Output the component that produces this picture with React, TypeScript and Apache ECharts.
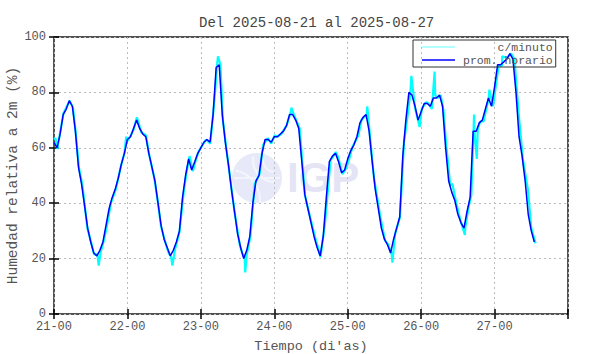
import React, { useEffect, useRef } from "react";
import * as echarts from "echarts";

const titleText = "Del 2025-08-21 al 2025-08-27";
const yAxisName = "Humedad relativa a 2m (%)";
const xAxisName = "Tiempo (di'as)";
const seriesNames = ["c/minuto", "prom. horario"];
const startDay = 21;
const yTicks = [0, 20, 40, 60, 80, 100];

// hourly averages, hour 0 = 21-00
const hourlyValues = [
  62, 60, 65, 72, 74, 77, 75, 66, 53, 47, 39, 31, 26, 22, 21, 23, 26, 32, 38, 42, 45, 49, 54, 58,
  63, 64, 67, 70, 67, 65, 64, 58, 53, 48, 40, 32, 27, 24, 21, 23, 26, 30, 42, 50, 56, 52, 55, 58,
  60, 62, 63, 62, 72, 89, 90, 72, 62, 54, 45, 37, 29, 24, 20, 23, 28, 40, 48, 50, 58, 63, 63, 62,
  64, 64, 65, 66, 68, 72, 72, 70, 67, 55, 43, 38, 33, 28, 24, 21, 28, 42, 55, 57, 58, 55, 51, 52,
  56, 59, 61, 64, 69, 71, 72, 66, 55, 45, 38, 31, 27, 25, 22, 27, 31, 35, 57, 70, 80, 79, 75, 70,
  73, 76, 76, 75, 78, 78, 79, 75, 60, 48, 44, 41, 36, 33, 31, 37, 42, 66, 66, 69, 70, 74, 78, 75,
  82, 90, 90, 91, 92, 94, 92, 80, 64, 57, 48, 36, 30, 26,
];

// per-minute trace: [hours since 21-00, value]
const minuteSeries: [number, number][] = [
  [0, 63], [0.5, 63.5], [1.1, 59.5], [2, 65.5], [3.1, 72.5], [4, 74.5], [5.1, 77], [6.2, 74.5], [7, 66.5],
  [8.2, 52.5], [9.3, 46.5], [10.9, 31], [12, 26.5], [13.1, 21.5], [14.2, 21.5], [14.6, 17.5],
  [15.2, 22], [16.4, 27], [17.5, 33], [18.6, 40], [20.2, 45], [21.9, 53.5], [23, 58], [23.6, 64],
  [24, 62.5], [25.1, 64.5], [26, 66.5], [27.1, 71], [28.6, 65.5], [30.1, 64.5], [31, 58],
  [32.8, 49], [34, 40], [35, 31.5], [36.6, 25], [37.5, 22], [38.3, 20.5], [38.7, 17.5], [39.5, 23],
  [41, 29.5], [42.4, 44], [43.3, 51], [44.3, 57], [45.4, 51.5], [46.2, 55], [47.2, 58.5],
  [48.5, 61], [49.7, 63], [51.1, 61.5], [52.5, 78], [53.3, 90], [53.6, 93], [54.4, 90],
  [55.2, 70], [56.3, 60], [57.7, 48], [59, 37], [60.7, 25], [61.5, 22], [62.3, 20.5], [62.5, 15],
  [63, 21.5], [64.2, 28], [65.6, 47], [67.2, 50.5], [68.3, 61], [69.9, 63.5], [71, 61.5],
  [72.1, 64.5], [73.2, 64], [74.3, 65], [76, 68], [77.3, 72.5], [77.6, 74.5], [78.4, 72],
  [80.3, 67], [82, 43], [83.6, 35.5], [85.6, 26.5], [86.3, 24], [87.1, 20.5], [88.5, 32],
  [90.4, 55.5], [91.3, 57], [92.1, 58.5], [92.9, 56.5], [94.3, 50.5], [95.4, 52.5], [96.5, 56],
  [97.6, 60.5], [99.5, 64.5], [100.5, 70], [101.3, 71], [102.2, 72], [102.4, 75], [103.3, 64],
  [104.6, 49], [105.5, 43], [106.6, 35.5], [108.2, 26.5], [109.3, 25], [110.4, 21.5], [110.6, 18.5],
  [111.5, 29], [113.1, 35], [114.4, 62], [115.5, 71], [116.5, 80], [116.8, 86], [118, 74.5],
  [119.5, 67.5], [120.2, 74], [121.6, 76.5], [122.4, 76], [123.5, 74], [124.4, 87.5], [124.6, 79],
  [125.4, 78], [126.4, 79], [127.3, 73.5], [128.2, 61], [129.5, 46.5], [130.2, 47], [131.5, 40],
  [132.8, 34], [134.3, 28.5], [134.4, 31], [135.5, 38.5], [136.4, 43], [137.3, 72], [137.4, 66],
  [138.2, 56], [138.5, 66.5], [139.3, 69.5], [140.4, 69.5], [141.3, 74], [142.1, 78], [142.3, 81],
  [143.5, 75], [144.5, 83], [145.4, 90], [146.4, 89.5], [146.5, 93], [148.1, 92.5],
  [149.4, 94], [150.5, 92], [151.9, 72], [153.3, 55.5], [154.9, 45], [156, 31], [157.4, 25.5],
];

const MONO = "'Liberation Mono', 'DejaVu Sans Mono', monospace";
const TEXT = "#555";

export default function App() {
  const ref = useRef<HTMLDivElement>(null);
  useEffect(() => {
    if (!ref.current) return;
    const chart = echarts.init(ref.current, null, { renderer: "svg" });
    const hourlyData = hourlyValues.map((v, i) => [i, v]);
    const axisCommon = {
      min: 0,
      axisLine: { show: false },
      splitLine: { show: false },
      axisTick: { show: true, inside: true, length: 5, lineStyle: { color: "#000", width: 1.5 } },
    };
    chart.setOption({
      animation: false,
      backgroundColor: "#fff",
      title: {
        text: titleText,
        left: 194,
        top: 11,
        textStyle: { fontFamily: MONO, fontSize: 14, fontWeight: "normal", color: "#444" },
      },
      legend: {
        left: 413,
        top: 40,
        orient: "vertical",
        padding: [1, 3, 1, 9],
        itemGap: 1,
        itemWidth: 33,
        itemHeight: 1.5,
        icon: "rect",
        borderColor: "#333",
        borderWidth: 1,
        backgroundColor: "transparent",
        formatter: (name: string) => (name === seriesNames[0] ? "     " + name : name),
        textStyle: { fontFamily: MONO, fontSize: 11.5, color: TEXT, lineHeight: 12, padding: [0, 0, 0, 3] },
        data: [
          { name: seriesNames[0], itemStyle: { color: "#99ffff" } },
          { name: seriesNames[1], itemStyle: { color: "#0000ff" } },
        ],
      },
      grid: {
        left: 54,
        top: 37,
        width: 514,
        height: 277,
        outerBoundsMode: "none",
        containLabel: false,
        show: true,
        borderColor: "#1a1a1a",
        borderWidth: 1.5,
        backgroundColor: "transparent",
      },
      graphic: [
        {
          type: "group",
          z: 0,
          silent: true,
          children: [
            { type: "circle", shape: { cx: 257, cy: 178, r: 25 }, style: { fill: "#e7e9f8" }, z: 0 },
            { type: "arc", shape: { cx: 275, cy: 160, r: 22, startAngle: 1.6, endAngle: 3.3 }, style: { stroke: "#f3f5fd", lineWidth: 2.5, fill: "none" }, z: 0 },
            { type: "arc", shape: { cx: 275, cy: 160, r: 12, startAngle: 1.6, endAngle: 3.3 }, style: { stroke: "#f3f5fd", lineWidth: 2, fill: "none" }, z: 0 },
            { type: "arc", shape: { cx: 230, cy: 200, r: 30, startAngle: 4.9, endAngle: 6.4 }, style: { stroke: "#f3f5fd", lineWidth: 2, fill: "none" }, z: 0 },
            { type: "line", shape: { x1: 234, y1: 178, x2: 280, y2: 178 }, style: { stroke: "#f3f5fd", lineWidth: 2 }, z: 0 },
            {
              type: "text",
              x: 287,
              y: 177,
              style: {
                text: "IGP",
                fontFamily: "'Liberation Sans', Arial, sans-serif",
                fontWeight: "bold",
                fontSize: 42,
                fill: "#e4e4f5",
                verticalAlign: "middle",
              },
              z: 0,
            },
          ],
        },
      ],
      xAxis: [
        {
          ...axisCommon,
          type: "value",
          max: 168,
          interval: 24,
          position: "bottom",
          name: xAxisName,
          nameLocation: "middle",
          nameGap: 25,
          nameMoveOverlap: false,
          nameTextStyle: { fontFamily: MONO, fontSize: 13.5, color: TEXT },
          axisLabel: {
            fontFamily: MONO,
            fontSize: 12,
            color: TEXT,
            margin: 7,
            formatter: (v: number) => (v >= 168 ? "" : `${startDay + v / 24}-00`),
          },
          splitLine: { show: true, lineStyle: { color: "#bbb", type: [2, 3], width: 1 } },
        },
        {
          ...axisCommon,
          type: "value",
          max: 168,
          interval: 24,
          position: "top",
          axisLabel: { show: false },
        },
      ],
      yAxis: [
        {
          ...axisCommon,
          type: "value",
          max: 100,
          interval: 20,
          position: "left",
          name: yAxisName,
          nameLocation: "middle",
          nameGap: 34,
          nameMoveOverlap: false,
          nameRotate: 90,
          nameTextStyle: { fontFamily: MONO, fontSize: 14.5, color: TEXT },
          axisLabel: {
            fontFamily: MONO,
            fontSize: 12,
            color: TEXT,
            margin: 8,
            formatter: (v: number) => (yTicks.includes(v) ? String(v) : ""),
          },
          splitLine: { show: true, lineStyle: { color: "#bbb", type: [2, 3], width: 1 } },
        },
        {
          ...axisCommon,
          type: "value",
          max: 100,
          interval: 20,
          position: "right",
          axisLabel: { show: false },
        },
      ],
      series: [
        {
          name: seriesNames[0],
          type: "line",
          xAxisIndex: 0,
          yAxisIndex: 0,
          data: minuteSeries,
          symbol: "none",
          lineStyle: { color: "#00ffff", width: 2.2 },
          itemStyle: { color: "#00ffff" },
          z: 2,
        },
        {
          name: seriesNames[1],
          type: "line",
          xAxisIndex: 0,
          yAxisIndex: 0,
          data: hourlyData,
          symbol: "none",
          lineStyle: { color: "#0000ff", width: 1.5 },
          itemStyle: { color: "#0000ff" },
          z: 3,
        },
      ],
    });
    return () => chart.dispose();
  }, []);
  return (
    <div
      ref={ref}
      style={{ position: "fixed", left: 0, top: 0, width: 590, height: 354, background: "#fff" }}
    />
  );
}
